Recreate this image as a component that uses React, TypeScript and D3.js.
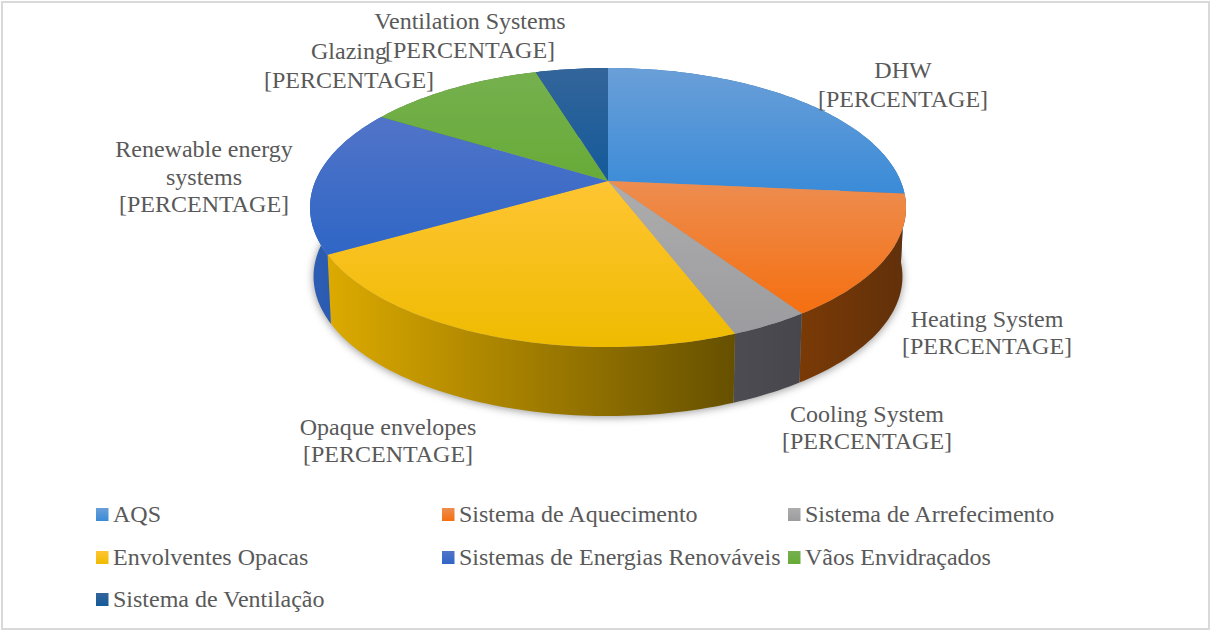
import React from "react";
import * as d3 from "d3";

const legendNames = ["AQS", "Sistema de Aquecimento", "Sistema de Arrefecimento", "Envolventes Opacas", "Sistemas de Energias Renováveis", "Vãos Envidraçados", "Sistema de Ventilação"];
const shares = [26.4, 14.1, 3.6, 22.5, 17.0, 11.5, 4.7];
const topLight = ["#6a9fd8", "#ed8d50", "#adadad", "#ffc533", "#5174c8", "#75b04e", "#33659a"];
const topDeep = ["#3a8bd8", "#f56f10", "#9c9ca0", "#efbb00", "#2f66c6", "#68ab38", "#145a9a"];
const sideLeft = ["#2b6cae", "#7a3a06", "#4c4c52", "#dcaa00", "#2c5db4", "#4f8232", "#1a4a78"];
const sideRight = ["#2b6cae", "#61300a", "#46464c", "#665000", "#2a58aa", "#4f8232", "#1a4a78"];
const dataLabels = [
  { lines: ["DHW", "[PERCENTAGE]"], x: 903, ys: [78, 107] },
  { lines: ["Heating System", "[PERCENTAGE]"], x: 987, ys: [327, 354] },
  { lines: ["Cooling System", "[PERCENTAGE]"], x: 867, ys: [422, 449] },
  { lines: ["Opaque envelopes", "[PERCENTAGE]"], x: 388, ys: [435, 462] },
  { lines: ["Renewable energy", "systems", "[PERCENTAGE]"], x: 204, ys: [157, 185, 212] },
  { lines: ["Glazing", "[PERCENTAGE]"], x: 349, ys: [59, 88] },
  { lines: ["Ventilation Systems", "[PERCENTAGE]"], x: 470, ys: [29, 58] },
];
const legendColumns = [96, 442, 788];
const legendRows = [508, 551, 593];

const CX = 608, CY = 181, K = 0.19, A = 134.5, B = 292.6, SHRINK = 0.988, DEPTH = 69;
const FONT = "'Liberation Serif', 'Times New Roman', serif";

// Perspective projection of a point on the unit-circle rim; angle is clockwise from the top.
function rim(angle: number, lower: boolean): [number, number] {
  const X = Math.sin(angle), Y = -Math.cos(angle);
  const f = 1 - K * Y;
  const s = lower ? SHRINK : 1;
  return [CX + (s * B * X) / f, CY + (A * Y) / f + (lower ? DEPTH : 0)];
}
function samples(a0: number, a1: number): number[] {
  const n = Math.max(2, Math.ceil((a1 - a0) / 0.02));
  return d3.range(n + 1).map((i) => a0 + ((a1 - a0) * i) / n);
}
const line = d3.line();

export default function App() {
  const arcs = d3.pie<number>().sort(null)(shares);
  const whole = samples(0, Math.PI * 2).map((a) => rim(a, true));
  return (
    <svg width={1212} height={632} style={{ position: "absolute", left: 0, top: 0 }} fontFamily={FONT}>
      <defs>
        <filter id="soft" x="-5%" y="-5%" width="110%" height="110%">
          <feGaussianBlur stdDeviation="4" />
        </filter>
        {arcs.map((d, i) => (
          <linearGradient key={i} id={`top${i}`} x1="0" y1="0" x2="0" y2="1">
            <stop offset="0" stopColor={topLight[i]} />
            <stop offset="1" stopColor={topDeep[i]} />
          </linearGradient>
        ))}
        {arcs.map((d, i) => (
          <linearGradient key={i} id={`side${i}`} x1="0" y1="0" x2="1" y2="0">
            <stop offset="0" stopColor={sideLeft[i]} />
            <stop offset="1" stopColor={sideRight[i]} />
          </linearGradient>
        ))}
      </defs>
      <rect x={2} y={2} width={1207} height={627} fill="#ffffff" stroke="#d9d9d9" strokeWidth={2} />
      <path d={line(whole)! + "Z"} fill="#3c3c3c" opacity={0.55} filter="url(#soft)" transform="translate(0,1)" />
      {arcs.map((d, i) => {
        const a = samples(d.startAngle, d.endAngle);
        const pts = [...a.map((t) => rim(t, false)), ...a.slice().reverse().map((t) => rim(t, true))];
        return <path key={i} d={line(pts)! + "Z"} fill={`url(#side${i})`} />;
      })}
      {arcs.map((d, i) => {
        const pts: [number, number][] = [[CX, CY], ...samples(d.startAngle, d.endAngle).map((t) => rim(t, false))];
        return <path key={i} d={line(pts)! + "Z"} fill={`url(#top${i})`} />;
      })}
      {dataLabels.map((l, i) => (
        <text key={i} textAnchor="middle" fontSize={24} fill="#595959">
          {l.lines.map((s, j) => (
            <tspan key={j} x={l.x} y={l.ys[j]}>{s}</tspan>
          ))}
        </text>
      ))}
      {legendNames.map((n, i) => {
        const x = legendColumns[i % 3];
        const y = legendRows[Math.floor(i / 3)];
        return (
          <g key={i}>
            <rect x={x} y={y} width={12.5} height={13} fill={`url(#top${i})`} />
            <text x={x + 17} y={y + 14} fontSize={24} fill="#595959">{n}</text>
          </g>
        );
      })}
    </svg>
  );
}
